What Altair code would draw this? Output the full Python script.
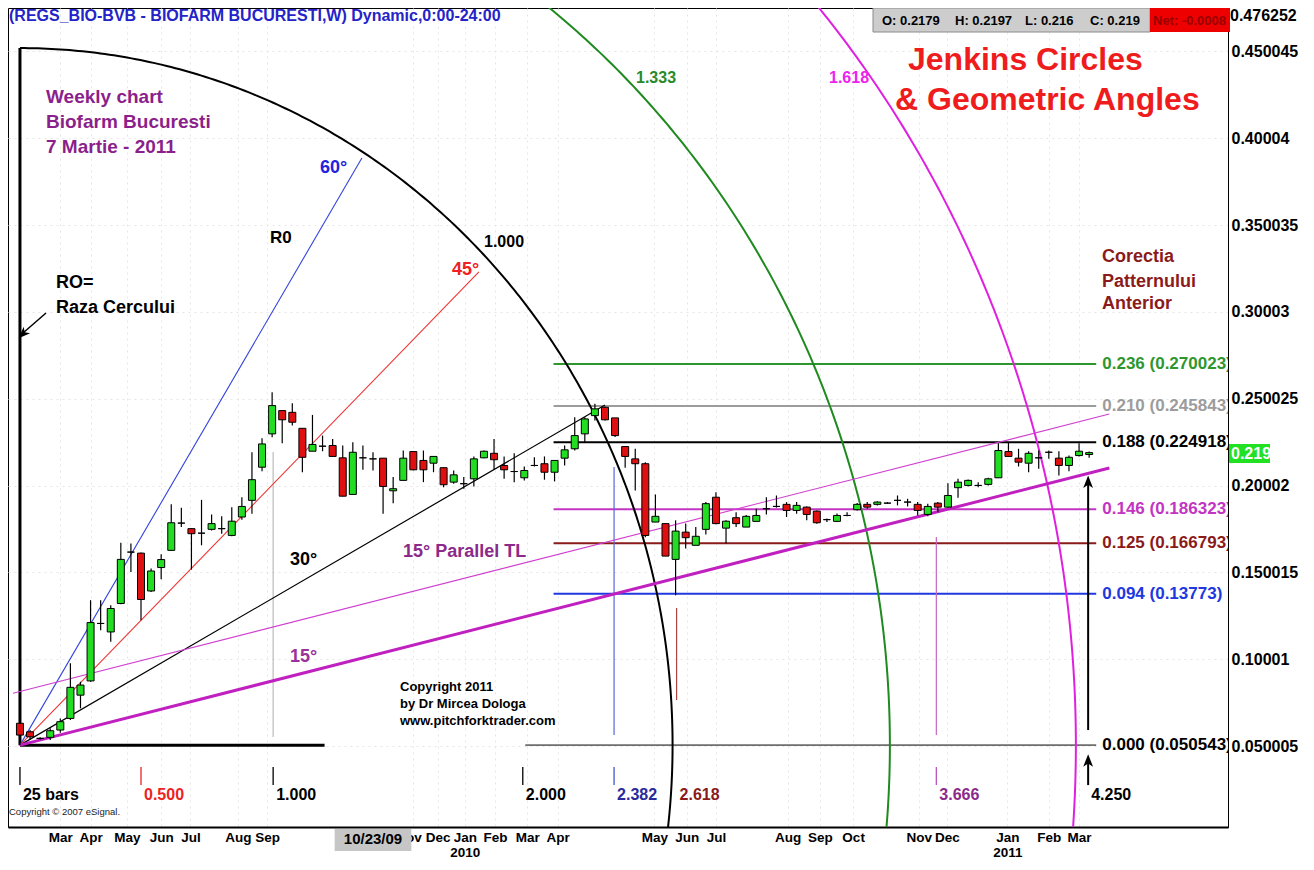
import json
import numpy as np
import pandas as pd
import altair as alt

FONT = "Liberation Sans"

# ---------------- weekly candles (bar 0 = Feb 2009) ----------------
opens = [0.0631, 0.0582, 0.0544, 0.0550, 0.0592, 0.0659, 0.0793, 0.0875, 0.1206, 0.1157,
         0.1321, 0.1617, 0.1611, 0.1393, 0.1528, 0.1627, 0.1784, 0.1752, 0.1726, 0.1748,
         0.1752, 0.1713, 0.1819, 0.1915, 0.2106, 0.2298, 0.2432, 0.2422, 0.2330, 0.2198,
         0.2227, 0.2231, 0.2160, 0.1949, 0.2160, 0.2154, 0.2158, 0.1970, 0.2030, 0.2196,
         0.2145, 0.2129, 0.2103, 0.2020, 0.2011, 0.2039, 0.2160, 0.2186, 0.2116, 0.2081,
         0.2045, 0.2116, 0.2126, 0.2077, 0.2158, 0.2212, 0.2298, 0.2403, 0.2451, 0.2390,
         0.2225, 0.2154, 0.2126, 0.1790, 0.1781, 0.1575, 0.1732, 0.1656, 0.1748, 0.1933,
         0.1755, 0.1815, 0.1761, 0.1794, 0.1867, 0.1880, 0.1892, 0.1857, 0.1876, 0.1853,
         0.1804, 0.1794, 0.1828, 0.1861, 0.1892, 0.1892, 0.1899, 0.1915, 0.1905, 0.1892,
         0.1834, 0.1899, 0.1876, 0.1988, 0.2001, 0.2001, 0.2007, 0.2045, 0.2196, 0.2158,
         0.2129, 0.2160, 0.2192, 0.2158, 0.2116, 0.2173, 0.2179]
highs = [0.0645, 0.0592, 0.0550, 0.0602, 0.0659, 0.0976, 0.0870, 0.1340, 0.1340, 0.1311,
         0.1671, 0.1666, 0.1615, 0.1522, 0.1604, 0.1892, 0.1873, 0.1753, 0.1918, 0.1834,
         0.1823, 0.1876, 0.1933, 0.2192, 0.2273, 0.2537, 0.2432, 0.2474, 0.2330, 0.2407,
         0.2288, 0.2269, 0.2231, 0.2250, 0.2231, 0.2192, 0.2158, 0.2049, 0.2202, 0.2200,
         0.2202, 0.2170, 0.2105, 0.2087, 0.2049, 0.2168, 0.2202, 0.2269, 0.2168, 0.2186,
         0.2110, 0.2163, 0.2168, 0.2145, 0.2231, 0.2393, 0.2393, 0.2471, 0.2455, 0.2390,
         0.2225, 0.2212, 0.2135, 0.1949, 0.1781, 0.1800, 0.1781, 0.1761, 0.1905, 0.1962,
         0.1800, 0.1847, 0.1830, 0.1867, 0.1933, 0.1943, 0.1905, 0.1905, 0.1880, 0.1857,
         0.1810, 0.1840, 0.1847, 0.1900, 0.1905, 0.1910, 0.1905, 0.1943, 0.1924, 0.1905,
         0.1895, 0.1905, 0.2014, 0.2039, 0.2035, 0.2020, 0.2045, 0.2244, 0.2250, 0.2212,
         0.2198, 0.2202, 0.2202, 0.2198, 0.2173, 0.2244, 0.2197]
lows = [0.0505, 0.0538, 0.0538, 0.0535, 0.0576, 0.0650, 0.0717, 0.0870, 0.1167, 0.1100,
        0.1317, 0.1502, 0.1225, 0.1387, 0.1460, 0.1623, 0.1761, 0.1516, 0.1656, 0.1742,
        0.1723, 0.1708, 0.1804, 0.1838, 0.2083, 0.2278, 0.2244, 0.2346, 0.2077, 0.2198,
        0.2198, 0.2168, 0.1939, 0.1949, 0.2091, 0.2087, 0.1838, 0.1899, 0.2030, 0.2088,
        0.2020, 0.2077, 0.1991, 0.2011, 0.1982, 0.1995, 0.2158, 0.2091, 0.2039, 0.2020,
        0.2030, 0.2110, 0.2034, 0.2024, 0.2116, 0.2202, 0.2250, 0.2375, 0.2375, 0.2280,
        0.2103, 0.1972, 0.1703, 0.1790, 0.1594, 0.1368, 0.1637, 0.1656, 0.1719, 0.1777,
        0.1666, 0.1761, 0.1761, 0.1794, 0.1834, 0.1873, 0.1819, 0.1838, 0.1800, 0.1780,
        0.1790, 0.1790, 0.1823, 0.1857, 0.1867, 0.1886, 0.1896, 0.1886, 0.1880, 0.1828,
        0.1823, 0.1847, 0.1873, 0.1930, 0.1995, 0.1991, 0.2001, 0.2045, 0.2168, 0.2110,
        0.2077, 0.2097, 0.2154, 0.2058, 0.2083, 0.2168, 0.2160]
closes = [0.0563, 0.0553, 0.0544, 0.0588, 0.0640, 0.0838, 0.0851, 0.1211, 0.1206, 0.1292,
          0.1575, 0.1617, 0.1344, 0.1508, 0.1574, 0.1786, 0.1784, 0.1723, 0.1726, 0.1781,
          0.1752, 0.1795, 0.1880, 0.2034, 0.2240, 0.2461, 0.2379, 0.2365, 0.2163, 0.2237,
          0.2227, 0.2168, 0.1939, 0.2192, 0.2160, 0.2154, 0.1995, 0.1982, 0.2158, 0.2091,
          0.2091, 0.2168, 0.2005, 0.2062, 0.2011, 0.2154, 0.2198, 0.2149, 0.2091, 0.2081,
          0.2087, 0.2116, 0.2077, 0.2145, 0.2206, 0.2288, 0.2384, 0.2442, 0.2379, 0.2288,
          0.2168, 0.2126, 0.1713, 0.1823, 0.1594, 0.1738, 0.1700, 0.1708, 0.1896, 0.1781,
          0.1795, 0.1781, 0.1823, 0.1828, 0.1867, 0.1880, 0.1857, 0.1886, 0.1834, 0.1786,
          0.1804, 0.1828, 0.1828, 0.1892, 0.1876, 0.1905, 0.1899, 0.1915, 0.1905, 0.1857,
          0.1880, 0.1876, 0.1943, 0.2020, 0.2030, 0.2001, 0.2039, 0.2202, 0.2168, 0.2135,
          0.2186, 0.2160, 0.2192, 0.2116, 0.2163, 0.2198, 0.2190]

# ---------------- axis tick labels ----------------
month_pos = [4.0, 7.0, 10.6, 14.0, 16.9, 21.6, 24.5, 39.0, 41.4, 44.1, 47.1, 50.3, 53.3,
             62.9, 66.1, 69.0, 76.1, 79.3, 82.6, 89.1, 91.9, 97.9, 102.0, 105.0]
month_lab = ["Mar", "Apr", "May", "Jun", "Jul", "Aug", "Sep", "ov", "Dec", ["Jan", "2010"],
             "Feb", "Mar", "Apr", "May", "Jun", "Jul", "Aug", "Sep", "Oct", "Nov", "Dec",
             ["Jan", "2011"], "Feb", "Mar"]
price_ticks = [0.050005, 0.10001, 0.150015, 0.20002, 0.250025, 0.30003, 0.350035, 0.40004, 0.450045]

# ---------------- retracement levels ----------------
level_text = ["0.236 (0.270023)", "0.210 (0.245843)", "0.188 (0.224918)", "0.146 (0.186323)",
              "0.125 (0.166793)", "0.094 (0.13773)", "0.000 (0.050543)"]
level_price = [0.270023, 0.245843, 0.224918, 0.186323, 0.166793, 0.13773, 0.050543]
level_start = [52.9, 52.9, 52.9, 52.9, 52.9, 52.9, 50.1]
level_color = ["#2e962e", "#9c9c9c", "#000000", "#c235c2", "#8b1a1a", "#2038e0", "#000000"]
level_width = [2, 2, 2, 2, 2, 2, 1]
level_end = 106.7
level_label_x = 107.3

# ---------------- Jenkins circles ----------------
circle_ratio = [1.0, 1.333, 1.618]
circle_color = ["#000000", "#1f8a1f", "#e020e0"]
origin_bar, origin_price = 0.0, 0.0505
R_bars, R_price = 64.7, 0.4015

# ---------------- geometric angle lines (start / end) ----------------
ang_x0 = [0.0, 0.0, 0.0, 0.0, -0.69]
ang_y0 = [0.0505, 0.0505, 0.0505, 0.0505, 0.0804]
ang_x1 = [33.9, 45.5, 58.0, 108.0, 108.0]
ang_y1 = [0.3887, 0.3231, 0.2464, 0.2101, 0.2412]
ang_color = ["#3344dd", "#ee3535", "#000000", "#c020c0", "#d040d0"]
ang_width = [1.1, 1.1, 1.2, 3, 1.1]

# ---------------- time ratio markers ----------------
mark_bar = [0.0, 12.0, 25.1, 49.85, 58.9, 65.1, 90.85, 105.9]
mark_text = ["25  bars", "0.500", "1.000", "2.000", "2.382", "2.618", "3.666", "4.250"]
mark_color = ["#000000", "#ee2222", "#000000", "#000000", "#2a2a9a", "#8b1a1a", "#8b2a8b", "#000000"]
mark_tick = [True, True, True, True, True, False, True, False]
tick_color = ["#000000", "#ee2222", "#000000", "#000000", "#4455cc", "#000000", "#bb55bb", "#000000"]

# vertical time lines
vline_x = [25.1, 58.9, 65.1, 90.85]
vline_lo = [0.0552, 0.0563, 0.0765, 0.0563]
vline_hi = [0.2194, 0.2107, 0.1295, 0.1704]
vline_color = ["#bbbbbb", "#5566dd", "#b04545", "#c466c4"]

# ---------------- layout constants ----------------
W, H = 1220, 819
X_DOM = [-0.69, 119.27]
Y_DOM = [0.00335, 0.4751]

xscale = alt.Scale(domain=X_DOM, nice=False, zero=False)
yscale = alt.Scale(domain=Y_DOM, nice=False, zero=False)

labs_js = "[" + ",".join(json.dumps(l) for l in month_lab) + "]"
xaxis = alt.Axis(values=month_pos, labelExpr=f"{labs_js}[indexof({json.dumps(month_pos)}, datum.value)]",
                 orient="bottom", ticks=False, domain=True, domainColor="#000000", domainWidth=2,
                 labelFont=FONT, labelFontSize=13.5, labelFontWeight="bold", labelColor="#000000",
                 labelPadding=3, labelLineHeight=15, labelOverlap=False, labelFlush=False,
                 labelBound=False, grid=True, gridColor="#e6e6e6", gridDash=[2, 4], title=None)
yaxis = alt.Axis(values=price_ticks, labelExpr="format(datum.value, '.6~g')", orient="right",
                 ticks=False, labelPadding=3, labelFont=FONT, labelFontSize=16, labelFontWeight="bold",
                 labelColor="#000000", domainColor="#000000", domainWidth=1, labelOverlap=False,
                 grid=True, gridColor="#e6e6e6", gridDash=[2, 4], title=None)


def X(f):
    return alt.X(f, type="quantitative", scale=xscale, axis=xaxis)


def Y(f):
    return alt.Y(f, type="quantitative", scale=yscale, axis=yaxis)


one = pd.DataFrame({"k": [0]})


def txt(t, px, py, color="#000000", size=14, weight="bold", align="left", baseline="middle"):
    return alt.Chart(one).mark_text(text=t, color=color, fontSize=size, fontWeight=weight, font=FONT,
                                    align=align, baseline=baseline).encode(x=alt.value(px), y=alt.value(py))


def prect(x0, x1, y0, y1, fill, stroke=None):
    kw = dict(fill=fill)
    if stroke:
        kw.update(stroke=stroke, strokeWidth=1)
    return alt.Chart(one).mark_rect(**kw).encode(x=alt.value(x0), x2=alt.value(x1),
                                                  y=alt.value(y0), y2=alt.value(y1))


def prule(x0, y0, x1, y1, color="#000000", w=1.5):
    return alt.Chart(one).mark_rule(color=color, strokeWidth=w).encode(
        x=alt.value(x0), x2=alt.value(x1), y=alt.value(y0), y2=alt.value(y1))


ARROW = "M0,-1L0.75,0.9L0,0.4L-0.75,0.9Z"

# ---------------- data frames ----------------
n = len(opens)
cdf = pd.DataFrame({"i": np.arange(n), "o": opens, "h": highs, "l": lows, "c": closes})
cdf["col"] = np.where(cdf.c > cdf.o, "#22dd22", np.where(cdf.c < cdf.o, "#e01010", "#000000"))

ldf = pd.DataFrame({"txt": level_text, "p": level_price, "x0": level_start, "x1": level_end,
                    "lx": level_label_x, "col": level_color, "w": level_width})

arcs = []
theta = np.linspace(np.radians(-12), np.radians(90), 260)
for k, col in zip(circle_ratio, circle_color):
    for j, t in enumerate(theta):
        arcs.append({"circle": str(k), "ord": j, "bx": origin_bar + k * R_bars * np.cos(t),
                     "py": origin_price + k * R_price * np.sin(t), "col": col})
adf = pd.DataFrame(arcs)

angdf = pd.DataFrame({"x0": ang_x0, "y0": ang_y0, "x1": ang_x1, "y1": ang_y1, "col": ang_color, "w": ang_width})
mdf = pd.DataFrame({"b": mark_bar, "t": mark_text, "col": mark_color, "tick": mark_tick, "tcol": tick_color})
vdf = pd.DataFrame({"b": vline_x, "lo": vline_lo, "hi": vline_hi, "col": vline_color})

# ---------------- layers ----------------
layers = []

# axis carrier (invisible)
layers.append(alt.Chart(cdf).mark_point(opacity=0).encode(x=X("i"), y=Y("c")))

# horizontal levels
layers.append(alt.Chart(ldf).mark_rule().encode(x=X("x0"), x2="x1", y=Y("p"),
                                                 color=alt.Color("col:N", scale=None),
                                                 strokeWidth=alt.StrokeWidth("w:Q", scale=None)))
layers.append(alt.Chart(ldf).mark_text(align="left", baseline="middle", font=FONT, fontSize=17,
                                       fontWeight="bold", clip=True).encode(
    x=X("lx"), y=Y("p"), text="txt:N", color=alt.Color("col:N", scale=None)))

# vertical time lines
layers.append(alt.Chart(vdf).mark_rule(strokeWidth=1.2).encode(x=X("b"), y=Y("lo"), y2="hi",
                                                                color=alt.Color("col:N", scale=None)))

# thick base radius lines
base = pd.DataFrame({"x0": [0.0, 0.0], "x1": [0.0, 30.2], "y0": [0.0505, 0.0505], "y1": [0.452, 0.0505]})
layers.append(alt.Chart(base).mark_rule(color="#000000", strokeWidth=3).encode(
    x=X("x0"), x2="x1", y=Y("y0"), y2="y1"))

# Jenkins circles
layers.append(alt.Chart(adf).mark_line(strokeWidth=2, clip=True).encode(
    x=X("bx"), y=Y("py"), detail="circle:N", order="ord:Q", color=alt.Color("col:N", scale=None)))

# angle lines
layers.append(alt.Chart(angdf).mark_rule(clip=True).encode(
    x=X("x0"), x2="x1", y=Y("y0"), y2="y1", color=alt.Color("col:N", scale=None),
    strokeWidth=alt.StrokeWidth("w:Q", scale=None)))

# candles
layers.append(alt.Chart(cdf).mark_rule(color="#000000", strokeWidth=1.2).encode(x=X("i"), y=Y("l"), y2="h"))
layers.append(alt.Chart(cdf).mark_bar(size=7, stroke="#000000", strokeWidth=1).encode(
    x=X("i"), y=Y("o"), y2="c", color=alt.Color("col:N", scale=None)))

# big arrows
arr = pd.DataFrame({"b": [105.9, 105.9], "lo": [0.0592, 0.0275], "hi": [0.2020, 0.0415]})
layers.append(alt.Chart(arr).mark_rule(color="#000000", strokeWidth=2).encode(x=X("b"), y=Y("lo"), y2="hi"))
layers.append(alt.Chart(arr).mark_point(shape=ARROW, filled=True, color="#000000", size=170, opacity=1).encode(
    x=X("b"), y=Y("hi")))

# time ratio markers
layers.append(alt.Chart(mdf[mdf.tick]).mark_rule(strokeWidth=1.3).encode(
    x=X("b"), y=alt.value(759), y2=alt.value(777), color=alt.Color("tcol:N", scale=None)))
layers.append(alt.Chart(mdf).mark_text(align="left", baseline="middle", dx=3, font=FONT, fontSize=16,
                                       fontWeight="bold").encode(
    x=X("b"), y=alt.value(787), text="t:N", color=alt.Color("col:N", scale=None)))

# date box on the time axis
layers.append(alt.Chart(one).mark_rect(fill="#c6c6c6").encode(
    x=alt.datum(31.2, scale=xscale), x2=alt.datum(38.8), y=alt.value(821), y2=alt.value(843)))
layers.append(alt.Chart(one).mark_text(text="10/23/09", font=FONT, fontSize=15, fontWeight="bold",
                                       color="#000000", align="center", baseline="middle").encode(
    x=alt.datum(35.0, scale=xscale), y=alt.value(831)))

# ---------------- annotations ----------------
layers += [
    txt("(REGS_BIO-BVB - BIOFARM BUCURESTI,W) Dynamic,0:00-24:00", 1, 8, "#2424c8", 16),
    prect(865, 1142, 0, 24, "#cdcdcd", "#8a8a8a"),
    prect(1142, 1222, 0, 24, "#ee0000"),
    txt("O: 0.2179", 874, 13, "#000000", 13),
    txt("H: 0.2197", 947, 13, "#000000", 13),
    txt("L: 0.216", 1017, 13, "#000000", 13),
    txt("C: 0.219", 1082, 13, "#000000", 13),
    txt("Net: -0.0008", 1145, 13, "#990000", 13),
    txt("0.476252", 1222, 8, "#000000", 16),
    prect(1221, 1262, 436, 455, "#22e022"),
    txt("0.219", 1223, 446, "#ffffff", 16),
    txt("Jenkins Circles", 900, 52, "#ee1c1c", 32),
    txt("& Geometric Angles", 887, 92, "#ee1c1c", 32),
    txt("Weekly chart", 38, 89, "#8b1f8b", 19),
    txt("Biofarm Bucuresti", 38, 114, "#8b1f8b", 19),
    txt("7 Martie - 2011", 38, 139, "#8b1f8b", 19),
    txt("60°", 312, 160, "#2222dd", 18),
    txt("R0", 262, 230, "#000000", 17),
    txt("1.000", 476, 234, "#000000", 16),
    txt("45°", 444, 262, "#ee2222", 18),
    txt("RO=", 48, 275, "#000000", 18),
    txt("Raza Cercului", 48, 300, "#000000", 18),
    txt("1.333", 628, 70, "#2a8a2a", 16),
    txt("1.618", 821, 70, "#ee22ee", 16),
    txt("Corectia", 1094, 249, "#8b1a1a", 18),
    txt("Patternului", 1094, 274, "#8b1a1a", 18),
    txt("Anterior", 1094, 296, "#8b1a1a", 18),
    txt("30°", 282, 552, "#000000", 18),
    txt("15° Parallel TL", 395, 544, "#8b2a8b", 18),
    txt("15°", 282, 649, "#993399", 18),
    txt("Copyright 2011", 392, 679, "#000000", 13),
    txt("by Dr Mircea Dologa", 392, 696, "#000000", 13),
    txt("www.pitchforktrader.com", 392, 713, "#000000", 13),
    txt("Copyright © 2007 eSignal.", 1, 804, "#222222", 9.5, "normal"),
    prule(38, 305, 15, 325, "#000000", 1.5),
]
layers.append(alt.Chart(one).mark_point(shape=ARROW, filled=True, color="#000000", size=150, angle=225,
                                        opacity=1).encode(x=alt.value(15), y=alt.value(326)))

chart = alt.layer(*layers).properties(
    width=W, height=H,
    padding={"left": 0, "top": 0, "right": 76, "bottom": 34},
    autosize=alt.AutoSizeParams(type="none"),
).configure_view(stroke="#000000", strokeWidth=1)

chart.save("out.html", embed_options={"renderer": "svg", "actions": False})
